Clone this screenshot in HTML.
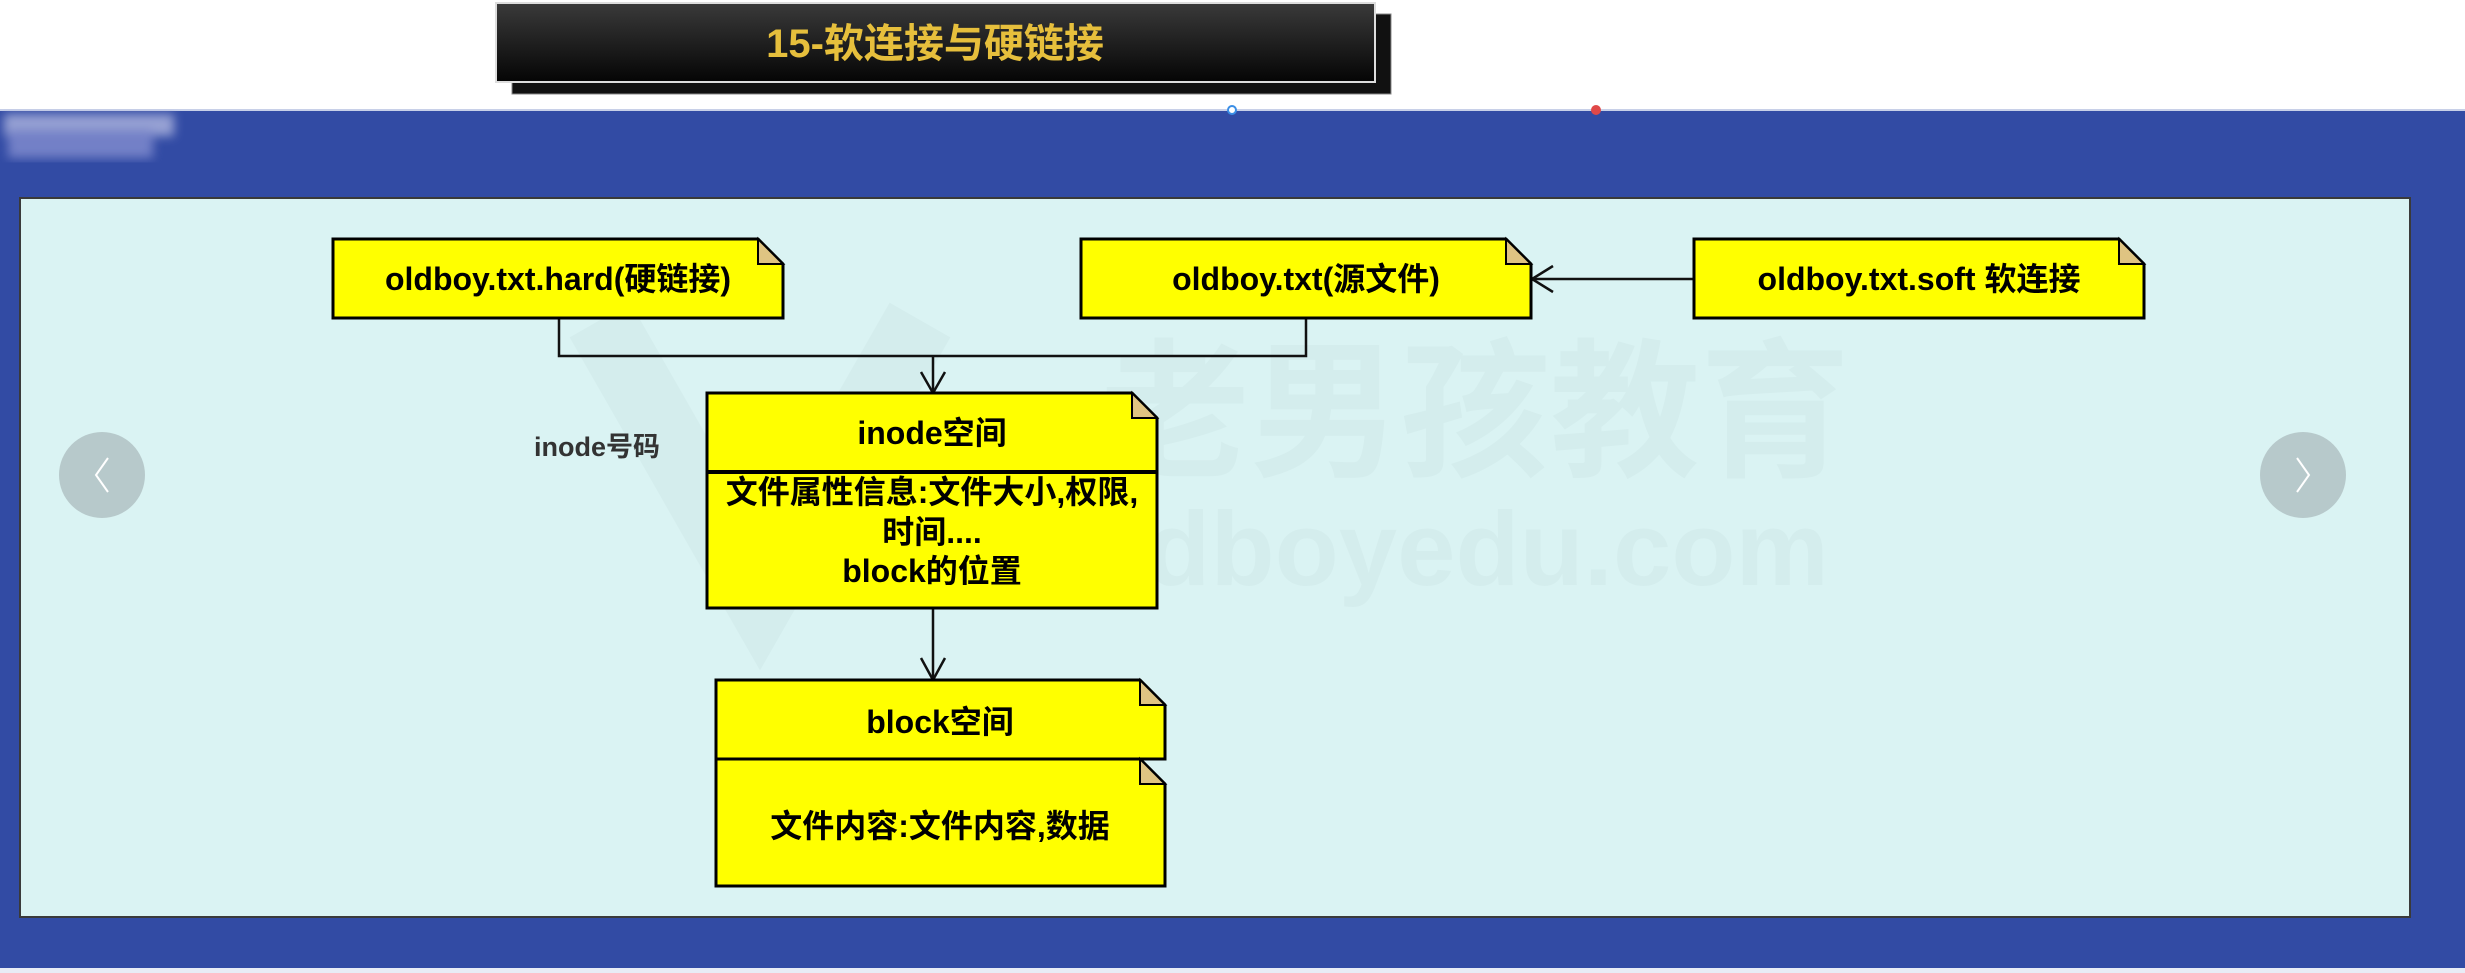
<!DOCTYPE html>
<html><head><meta charset="utf-8"><style>
html,body{margin:0;padding:0;background:#fff;}
body{width:2465px;height:973px;overflow:hidden;position:relative;}
svg{position:absolute;left:0;top:0;}
text{font-family:"Liberation Sans","Noto Sans CJK SC",sans-serif;font-weight:bold;}
</style></head><body>
<svg width="2465" height="973" viewBox="0 0 2465 973" xmlns="http://www.w3.org/2000/svg">
<defs>
<linearGradient id="tg" x1="0" y1="0" x2="0" y2="1">
<stop offset="0" stop-color="#3a3a3a"/><stop offset="1" stop-color="#050505"/>
</linearGradient>
<filter id="bl"><feGaussianBlur stdDeviation="5"/></filter>
</defs>
<rect x="0" y="0" width="2465" height="973" fill="#fff"/>
<!-- title -->
<rect x="512" y="14" width="879" height="80" fill="#111" stroke="#888" stroke-width="1"/>
<rect x="496" y="3" width="879" height="79" fill="url(#tg)" stroke="#ddd" stroke-width="2"/>
<text x="935" y="57" font-size="40" fill="#e6bf3c" text-anchor="middle">15-软连接与硬链接</text>
<!-- blue area -->
<rect x="0" y="109" width="2465" height="2" fill="#c8d0e8"/>
<rect x="0" y="111" width="2465" height="857" fill="#324ba4"/>
<rect x="0" y="968" width="2465" height="5" fill="#e8ecf6"/>
<g filter="url(#bl)" opacity="0.85"><rect x="4" y="114" width="170" height="22" fill="#a8b0dc"/><rect x="8" y="130" width="145" height="28" fill="#7f8ace"/></g>
<circle cx="1232" cy="110" r="4" fill="#fff" stroke="#3a8ee6" stroke-width="2"/>
<circle cx="1596" cy="110" r="5" fill="#e04848"/>
<!-- panel -->
<rect x="20" y="198" width="2390" height="719" fill="#daf3f3" stroke="#3a3a3a" stroke-width="2"/>
<!-- watermark -->
<text x="1100" y="465" font-size="150" fill="#000" fill-opacity="0.025" font-weight="normal">老男孩教育</text>
<text x="1053" y="585" font-size="105" fill="#000" fill-opacity="0.025" font-weight="normal">oldboyedu.com</text>
<path d="M600 320 L760 600 L920 320" fill="none" stroke="#000" stroke-opacity="0.025" stroke-width="70"/>
<!-- nav -->
<circle cx="102" cy="475" r="43" fill="#b7c9cb"/>
<path d="M108 458 L96 475 L108 492" fill="none" stroke="#fff" stroke-width="2"/>
<circle cx="2303" cy="475" r="43" fill="#b7c9cb"/>
<path d="M2297 458 L2309 475 L2297 492" fill="none" stroke="#fff" stroke-width="2"/>
<!-- connectors -->
<g stroke="#111" stroke-width="2.5" fill="none">
<path d="M559 318 V356 H1306 V318"/>
<path d="M933 356 V393"/>
<path d="M921 372 L933 393 L945 372"/>
<path d="M1694 279 H1532"/>
<path d="M1553 266 L1532 279 L1553 292"/>
<path d="M933 608 V680"/>
<path d="M921 658 L933 680 L945 658"/>
</g>
<!-- notes -->
<g stroke="#000" stroke-width="3">
<path d="M333 239 H758 L783 264 V318 H333 Z" fill="#ffff00"/>
<path d="M758 239 V264 H783 Z" fill="#dfc482" stroke-width="2"/>
<path d="M1081 239 H1506 L1531 264 V318 H1081 Z" fill="#ffff00"/>
<path d="M1506 239 V264 H1531 Z" fill="#dfc482" stroke-width="2"/>
<path d="M1694 239 H2119 L2144 264 V318 H1694 Z" fill="#ffff00"/>
<path d="M2119 239 V264 H2144 Z" fill="#dfc482" stroke-width="2"/>
<path d="M707 393 H1132 L1157 418 V608 H707 Z" fill="#ffff00"/>
<path d="M1132 393 V418 H1157 Z" fill="#dfc482" stroke-width="2"/>
<path d="M707 472 H1157" stroke-width="4"/>
<path d="M716 680 H1140 L1165 705 V759 H716 Z" fill="#ffff00"/>
<path d="M1140 680 V705 H1165 Z" fill="#dfc482" stroke-width="2"/>
<path d="M716 759 H1140 L1165 784 V886 H716 Z" fill="#ffff00"/>
<path d="M1140 759 V784 H1165 Z" fill="#dfc482" stroke-width="2"/>
</g>
<g font-size="32" fill="#000" text-anchor="middle">
<text x="558" y="290">oldboy.txt.hard(硬链接)</text>
<text x="1306" y="290">oldboy.txt(源文件)</text>
<text x="1919" y="290">oldboy.txt.soft 软连接</text>
<text x="932" y="444">inode空间</text>
<text x="932" y="503">文件属性信息:文件大小,权限,</text>
<text x="932" y="543">时间....</text>
<text x="932" y="582">block的位置</text>
<text x="940" y="733">block空间</text>
<text x="940" y="837">文件内容:文件内容,数据</text>
</g>
<text x="534" y="456" font-size="27" fill="#333">inode号码</text>
</svg>
</body></html>
